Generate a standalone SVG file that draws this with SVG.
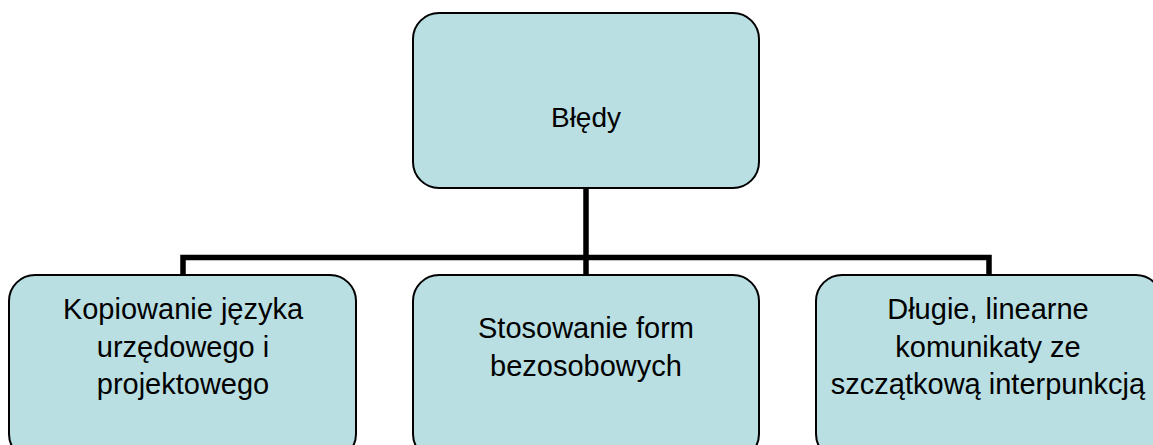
<svg xmlns="http://www.w3.org/2000/svg" width="1153" height="445" viewBox="0 0 1153 445">
  <style>
    .box { fill: #B9DFE2; stroke: #000000; stroke-width: 2; }
    .label { font-family: "Liberation Sans", Arial, sans-serif; font-size: 29px; fill: #000000; text-anchor: middle; }
    .title { font-size: 28px; }
    .link { fill: none; stroke: #000000; stroke-width: 5.5; stroke-linejoin: miter; }
  </style>
  <rect width="1153" height="445" fill="#FFFFFF"/>

  <!-- tree connectors -->
  <g id="connectors">
    <path class="link" d="M586 188 V276"/>
    <path class="link" d="M183 276 V257.5 H989 V276"/>
  </g>

  <g id="node-bledy">
    <rect class="box" x="413" y="13" width="346" height="175" rx="26" ry="26"/>
    <text class="label title" x="586" y="127">Błędy</text>
  </g>

  <g id="node-kopiowanie">
    <rect class="box" x="9" y="275" width="347" height="185" rx="26" ry="26"/>
    <text class="label" x="183" y="319">Kopiowanie języka</text>
    <text class="label" x="183" y="356.5">urzędowego i</text>
    <text class="label" x="183" y="394">projektowego</text>
  </g>

  <g id="node-stosowanie">
    <rect class="box" x="413" y="275" width="346" height="185" rx="26" ry="26"/>
    <text class="label" x="586" y="338">Stosowanie form</text>
    <text class="label" x="586" y="376">bezosobowych</text>
  </g>

  <g id="node-dlugie">
    <rect class="box" x="816" y="275" width="346" height="185" rx="26" ry="26"/>
    <text class="label" x="988" y="319">Długie, linearne</text>
    <text class="label" x="988" y="356.5">komunikaty ze</text>
    <text class="label" x="988" y="394">szczątkową interpunkcją</text>
  </g>
</svg>
